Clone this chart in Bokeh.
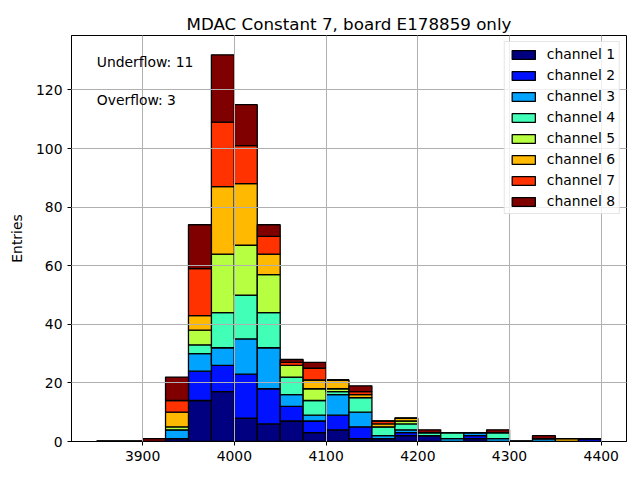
from bokeh.plotting import figure
from bokeh.models import ColumnDataSource, Label, Range1d, FixedTicker
from bokeh.embed import file_html
from bokeh.resources import INLINE

# ---- data ----
bin_edges = [3850, 3875, 3900, 3925, 3950, 3975, 4000, 4025, 4050, 4075, 4100,
             4125, 4150, 4175, 4200, 4225, 4250, 4275, 4300, 4325, 4350, 4375, 4400]
channel_names = ["channel 1", "channel 2", "channel 3", "channel 4",
                 "channel 5", "channel 6", "channel 7", "channel 8"]
ch1 = [0, 0, 0, 1, 14, 17, 8, 6, 7, 3, 4, 1, 1, 2, 2, 0, 1, 0, 0, 0, 0, 0]
ch2 = [0, 0, 0, 0, 10, 9, 15, 12, 5, 4, 5, 4, 0, 1, 0, 0, 1, 0, 0, 0, 0, 1]
ch3 = [0, 0, 0, 3, 6, 6, 12, 14, 4, 2, 7, 5, 1, 1, 0, 1, 1, 1, 0, 1, 0, 0]
ch4 = [0, 0, 0, 0, 3, 12, 15, 12, 6, 5, 1, 5, 3, 2, 1, 2, 0, 2, 0, 0, 0, 0]
ch5 = [0, 0, 0, 1, 5, 20, 17, 13, 4, 4, 1, 0, 0, 1, 0, 0, 0, 0, 0, 0, 0, 0]
ch6 = [0, 0, 0, 5, 5, 23, 21, 7, 0, 3, 3, 1, 1, 1, 0, 0, 0, 0, 0, 0, 1, 0]
ch7 = [0, 0, 0, 4, 16, 22, 13, 6, 1, 4, 0, 1, 1, 0, 0, 0, 0, 0, 0, 0, 0, 0]
ch8 = [0, 0, 1, 8, 15, 23, 14, 4, 1, 2, 0, 2, 0, 0, 1, 0, 0, 1, 0, 1, 0, 0]
underflow = 11
overflow = 3
x_ticks = [3900, 4000, 4100, 4200, 4300, 4400]
y_ticks = [0, 20, 40, 60, 80, 100, 120]

colors = ["#000080", "#0012ff", "#00a4ff", "#41ffb6",
          "#b6ff41", "#ffb900", "#ff3200", "#800000"]
FONT = "DejaVu Sans"
FS = "13.9px"

centers = [(a + b) / 2 for a, b in zip(bin_edges[:-1], bin_edges[1:])]
width = bin_edges[1] - bin_edges[0]
keys = ["c1", "c2", "c3", "c4", "c5", "c6", "c7", "c8"]
source = ColumnDataSource(dict(x=centers, c1=ch1, c2=ch2, c3=ch3, c4=ch4,
                               c5=ch5, c6=ch6, c7=ch7, c8=ch8))

totals = [sum(v) for v in zip(ch1, ch2, ch3, ch4, ch5, ch6, ch7, ch8)]
span = bin_edges[-1] - bin_edges[0]
ymax = max(totals) * 1.05

p = figure(width=640, height=480, output_backend="svg", toolbar_location=None,
           x_range=Range1d(bin_edges[0] - 0.05 * span, bin_edges[-1] + 0.05 * span),
           y_range=Range1d(0, ymax),
           min_border_left=71, min_border_right=14, min_border_top=35, min_border_bottom=39,
           title="MDAC Constant 7, board E178859 only")

p.vbar_stack(keys, x="x", width=width, source=source, fill_color=colors,
             line_color="black", line_width=1.3, legend_label=channel_names)

p.title.align = "center"
p.title.text_font = FONT
p.title.text_font_size = "16.7px"
p.title.text_font_style = "normal"
p.title.text_color = "black"
p.title.standoff = 4

p.outline_line_color = "black"
p.outline_line_alpha = 1
p.outline_line_width = 1

for ax in (p.xaxis[0], p.yaxis[0]):
    ax.major_label_text_font = FONT
    ax.major_label_text_font_size = FS
    ax.major_label_text_color = "black"
    ax.major_tick_out = 4
    ax.major_tick_in = 0
    ax.minor_tick_out = 0
    ax.minor_tick_in = 0
    ax.axis_line_color = "black"
    ax.major_tick_line_color = "black"
p.xaxis[0].ticker = FixedTicker(ticks=x_ticks)
p.yaxis[0].ticker = FixedTicker(ticks=y_ticks)
p.yaxis[0].axis_label = "Entries"
p.yaxis[0].axis_label_text_font = FONT
p.yaxis[0].axis_label_text_font_size = FS
p.yaxis[0].axis_label_text_font_style = "normal"
p.yaxis[0].axis_label_text_color = "black"
p.yaxis[0].axis_label_standoff = 8

for g in (p.xgrid[0], p.ygrid[0]):
    g.grid_line_color = "#b0b0b0"
    g.grid_line_width = 1
    g.level = "guide"
p.xgrid[0].ticker = FixedTicker(ticks=x_ticks)
p.ygrid[0].ticker = FixedTicker(ticks=y_ticks)

p.add_layout(Label(x=bin_edges[0], y=ymax * 0.935, text=f"Underflow: {underflow}",
                   text_font=FONT, text_font_size=FS, text_baseline="middle",
                   text_color="black"))
p.add_layout(Label(x=bin_edges[0], y=ymax * 0.84, text=f"Overflow: {overflow}",
                   text_font=FONT, text_font_size=FS, text_baseline="middle",
                   text_color="black"))

lg = p.legend[0]
lg.location = "top_right"
lg.label_text_font = FONT
lg.label_text_font_size = FS
lg.label_text_color = "black"
lg.glyph_width = 29
lg.glyph_height = 11
lg.label_height = 15
lg.spacing = 5
lg.padding = 4
lg.margin = 6
lg.label_standoff = 9
lg.border_line_color = "#cccccc"
lg.background_fill_alpha = 0.8

open("out.html", "w").write(file_html(p, INLINE))
